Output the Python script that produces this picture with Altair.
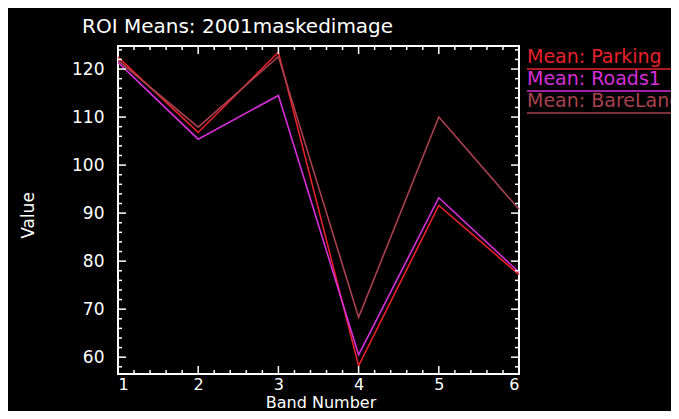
import altair as alt
import pandas as pd

bands = [1, 2, 3, 4, 5, 6]
series_names = ["Mean: Parking", "Mean: Roads1", "Mean: BareLand"]
parking = [122.5, 106.8, 123.5, 58.2, 91.6, 77.2]
roads = [121.4, 105.4, 114.5, 60.5, 93.2, 77.7]
bareland = [121.8, 107.9, 122.6, 68.3, 110.0, 90.8]
colors = ["#e8202c", "#d62ed8", "#a8404e"]

x_labels = [1, 2, 3, 4, 5, 6]
y_labels = [60, 70, 80, 90, 100, 110, 120]
x_domain = [1, 6]
y_domain = [56.5, 124.8]

W, H = 401, 328
FONT = "DejaVu Sans"

rows = []
for name, vals in zip(series_names, [parking, roads, bareland]):
    for b, v in zip(bands, vals):
        rows.append({"band": b, "value": v, "series": name})
df = pd.DataFrame(rows)

xs = alt.Scale(domain=x_domain, nice=False, zero=False)
ys = alt.Scale(domain=y_domain, nice=False, zero=False)
xaxis = alt.Axis(values=x_labels, format="d", labelPadding=2, labelFontSize=16,
                 titleBaseline="alphabetic", titleY=33, titleX=W / 2 + 2, titleFontSize=16)
yaxis = alt.Axis(values=y_labels, format="d", labelPadding=14,
                 titleX=-90, titleY=H / 2 + 5, titleBaseline="middle", titleAlign="center", titleAngle=-90)

lines = alt.Chart(df).mark_line(strokeWidth=1.6, clip=False).encode(
    x=alt.X("band:Q", scale=xs, title="Band Number", axis=xaxis),
    y=alt.Y("value:Q", scale=ys, title="Value", axis=yaxis),
    color=alt.Color("series:N", scale=alt.Scale(domain=series_names, range=colors), legend=None),
    order=alt.Order("band:Q"),
)

# tick positions
x_major = x_labels
x_minor = [round(1 + 0.2 * i, 2) for i in range(26) if i % 5 != 0]
y_major = y_labels
y_minor = [v for v in range(58, 125, 2) if v % 10 != 0]

def xticks(vals, length):
    d = pd.DataFrame({"v": vals})
    base = alt.Chart(d).mark_rule(color="white", strokeWidth=1.5)
    xe = alt.X("v:Q", scale=xs, title="Band Number", axis=xaxis)
    bottom = base.encode(x=xe, y=alt.value(H), y2=alt.value(H - length))
    top = base.encode(x=xe, y=alt.value(0), y2=alt.value(length))
    return [bottom, top]

def yticks(vals, length):
    d = pd.DataFrame({"v": vals})
    base = alt.Chart(d).mark_rule(color="white", strokeWidth=1.5)
    ye = alt.Y("v:Q", scale=ys, title="Value", axis=yaxis)
    left = base.encode(y=ye, x=alt.value(0), x2=alt.value(length))
    right = base.encode(y=ye, x=alt.value(W), x2=alt.value(W - length))
    return [left, right]

tick_layers = xticks(x_major, 8) + xticks(x_minor, 4) + yticks(y_major, 8) + yticks(y_minor, 4)

legend_layers = []
for i, (name, col) in enumerate(zip(series_names, colors)):
    d = pd.DataFrame({"label": [name]})
    t = alt.Chart(d).mark_text(align="left", baseline="middle", font=FONT, fontSize=19,
                               color=col, clip=False).encode(
        text="label:N", x=alt.value(W + 8), y=alt.value(11 + 22 * i))
    r = alt.Chart(d).mark_rule(color=col, strokeWidth=1.5, clip=False).encode(
        x=alt.value(W + 8), x2=alt.value(W + 200), y=alt.value(23 + 22 * i))
    legend_layers += [t, r]

chart = alt.layer(lines, *tick_layers, *legend_layers).properties(
    width=W, height=H,
    title=alt.TitleParams("ROI Means: 2001maskedimage", font=FONT, fontSize=20,
                          fontWeight="normal", color="white", anchor="start", frame="group",
                          dx=-36, dy=22, baseline="alphabetic", offset=14),
    autosize=alt.AutoSizeParams(type="none"),
    padding={"left": 110, "top": 38, "right": 152, "bottom": 37},
).configure(background="black").configure_view(
    stroke="white", strokeWidth=2
).configure_axis(
    domain=False, ticks=False, grid=False,
    labelColor="white", labelFont=FONT, labelFontSize=17,
    titleColor="white", titleFont=FONT, titleFontSize=17, titleFontWeight="normal",
)

chart.save("out.html", embed_options={"renderer": "svg", "actions": False})
